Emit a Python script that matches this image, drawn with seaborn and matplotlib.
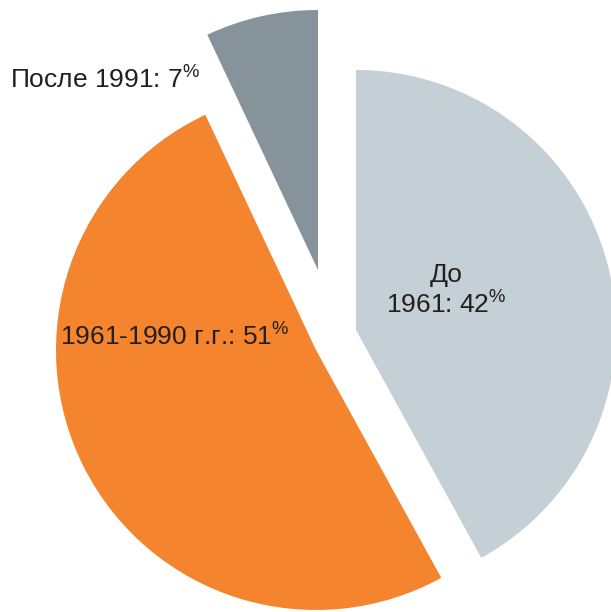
import matplotlib
matplotlib.use('Agg')
import matplotlib.pyplot as plt
import seaborn as sns

# shares of housing stock by construction period (percent)
periods = ['До\n1961', '1961-1990 г.г.', 'После 1991']
shares = [42, 51, 7]
slice_colors = ['#c5cfd6', '#f5842f', '#87939a']

sns.set_theme(style='white')
plt.rcParams['font.family'] = ['Liberation Sans', 'DejaVu Sans']
plt.rcParams['mathtext.fontset'] = 'custom'
plt.rcParams['mathtext.rm'] = 'Liberation Sans'
plt.rcParams['mathtext.it'] = 'Liberation Sans'

fig = plt.figure(figsize=(6.11, 6.12), dpi=100)
ax = fig.add_axes([0, 0, 1, 1])

wedges, _ = ax.pie(shares, colors=slice_colors, startangle=90, counterclock=False,
                   radius=260, center=(0, 0), wedgeprops=dict(linewidth=0))

# each slice is pulled out by hand in the original, so move the apexes
apex = [(356, 282), (316, 262), (318, 342)]
for w, c in zip(wedges, apex):
    w.set_center(c)

label_pos = [(446, 321, 'center'), (175, 275, 'center'), (10, 532, 'left')]
for name, val, (x, y, ha) in zip(periods, shares, label_pos):
    ax.text(x, y, f'{name}: {val}' + r'$^{\mathrm{\%}}$', ha=ha, va='center',
            fontsize=19, color='#231f20', linespacing=1.2, multialignment='center')

ax.set_xlim(0, 611)
ax.set_ylim(0, 612)
ax.set_aspect('equal')
ax.axis('off')

fig.savefig('out.png', dpi=100)
